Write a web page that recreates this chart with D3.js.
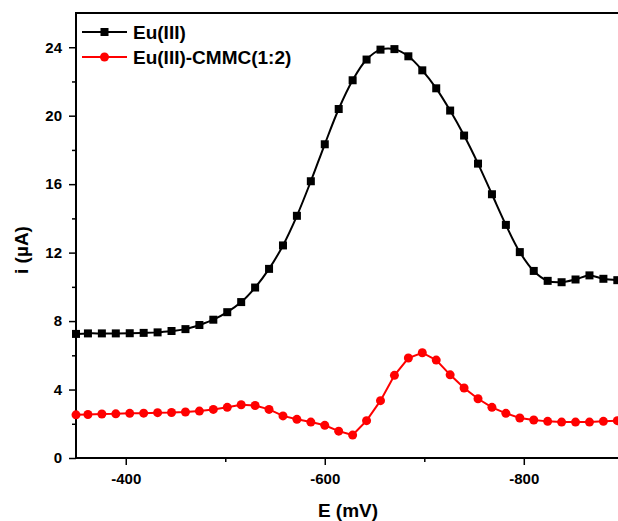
<!DOCTYPE html>
<html lang="en">
<head>
<meta charset="utf-8">
<title>Eu(III) voltammogram</title>
<script src="https://cdn.jsdelivr.net/npm/d3@7"></script>
<style>
  body { margin: 0; background: #fff; }
  svg text { font-family: "Liberation Sans", Arial, sans-serif; font-weight: bold; }
</style>
</head>
<body>
<script>
// potentials (mV)
var potentials = [-350, -362, -376, -390, -404, -418, -432, -446, -460, -474,
                  -488, -502, -516, -530, -544, -558, -572, -586, -600, -614,
                  -628, -642, -656, -670, -684, -698, -712, -726, -740, -754,
                  -768, -782, -796, -810, -824, -838, -852, -866, -880, -894];

// current (uA)
var euValues = [7.25, 7.28, 7.28, 7.28, 7.29, 7.31, 7.34, 7.42, 7.53, 7.77,
                8.08, 8.52, 9.11, 9.96, 11.05, 12.42, 14.15, 16.17, 18.33, 20.39,
                22.07, 23.28, 23.86, 23.89, 23.47, 22.65, 21.6, 20.3, 18.84, 17.2,
                15.41, 13.62, 12.03, 10.93, 10.35, 10.27, 10.43, 10.67, 10.47, 10.39];

var cmmcValues = [2.52, 2.54, 2.57, 2.58, 2.61, 2.62, 2.65, 2.66, 2.69, 2.74,
                  2.84, 2.96, 3.11, 3.07, 2.84, 2.46, 2.26, 2.10, 1.91, 1.57,
                  1.34, 2.18, 3.35, 4.83, 5.84, 6.15, 5.72, 4.86, 4.09, 3.46,
                  2.96, 2.61, 2.34, 2.22, 2.14, 2.10, 2.10, 2.10, 2.14, 2.18];

var xTicks = [-400, -600, -800];
var xMinor = [-500, -700];
var yTicks = [0, 4, 8, 12, 16, 20, 24];
var yMinor = [2, 6, 10, 14, 18, 22];

var w = 618, h = 521;
var mLeft = 76, mTop = 13, mBottom = 458;

var x = d3.scaleLinear().domain([-350, -900]).range([mLeft, 623.3]);
var y = d3.scaleLinear().domain([0, 26]).range([mBottom, mTop]);

var svg = d3.select("body").append("svg")
            .attr("width", w)
            .attr("height", h);

// axes
svg.append("g")
   .attr("transform", "translate(0," + mBottom + ")")
   .call(d3.axisBottom(x).tickValues(xTicks).tickSize(7).tickPadding(8)
           .tickFormat(function(d) { return String(d); }));
svg.append("g")
   .attr("transform", "translate(0," + mBottom + ")")
   .call(d3.axisBottom(x).tickValues(xMinor).tickSize(4).tickFormat(""));

svg.append("g")
   .attr("transform", "translate(" + mLeft + ",0)")
   .call(d3.axisLeft(y).tickValues(yTicks).tickSize(7).tickPadding(7));
svg.append("g")
   .attr("transform", "translate(" + mLeft + ",0)")
   .call(d3.axisLeft(y).tickValues(yMinor).tickSize(4).tickFormat(""));

svg.selectAll(".domain").remove();
svg.selectAll(".tick line").attr("stroke", "#000").attr("stroke-width", 1.5);
svg.selectAll(".tick text").attr("font-size", 15).attr("fill", "#000")
   .attr("font-family", "Liberation Sans, Arial, sans-serif").attr("font-weight", "bold");

// frame: left, bottom, top
svg.append("path")
   .attr("d", "M" + w + "," + mTop + "H" + mLeft + "V" + mBottom + "H" + w)
   .attr("fill", "none")
   .attr("stroke", "#000")
   .attr("stroke-width", 2);

// series
var euData = potentials.map(function(e, i) { return [e, euValues[i]]; });
var cmmcData = potentials.map(function(e, i) { return [e, cmmcValues[i]]; });

var line = d3.line()
             .x(function(d) { return x(d[0]); })
             .y(function(d) { return y(d[1]); });

svg.append("path")
   .attr("d", line.curve(d3.curveCatmullRom)(euData))
   .attr("fill", "none")
   .attr("stroke", "#000")
   .attr("stroke-width", 2);

svg.append("path")
   .attr("d", line.curve(d3.curveLinear)(cmmcData))
   .attr("fill", "none")
   .attr("stroke", "#ff0000")
   .attr("stroke-width", 2);

svg.selectAll("rect.eu")
   .data(euData)
   .enter()
   .append("rect")
   .attr("class", "eu")
   .attr("x", function(d) { return x(d[0]) - 4; })
   .attr("y", function(d) { return y(d[1]) - 4; })
   .attr("width", 8)
   .attr("height", 8)
   .attr("fill", "#000");

svg.selectAll("circle.cmmc")
   .data(cmmcData)
   .enter()
   .append("circle")
   .attr("class", "cmmc")
   .attr("cx", function(d) { return x(d[0]); })
   .attr("cy", function(d) { return y(d[1]); })
   .attr("r", 4.5)
   .attr("fill", "#ff0000");

// legend
var legend = [
  { name: "Eu(III)", color: "#000", shape: "square", y: 32 },
  { name: "Eu(III)-CMMC(1:2)", color: "#ff0000", shape: "circle", y: 57 }
];

legend.forEach(function(l) {
  svg.append("line")
     .attr("x1", 82).attr("x2", 127)
     .attr("y1", l.y).attr("y2", l.y)
     .attr("stroke", l.color)
     .attr("stroke-width", 2);
  if (l.shape == "square") {
    svg.append("rect")
       .attr("x", 104.5 - 4).attr("y", l.y - 4)
       .attr("width", 8).attr("height", 8)
       .attr("fill", l.color);
  } else {
    svg.append("circle")
       .attr("cx", 104.5).attr("cy", l.y)
       .attr("r", 4.5)
       .attr("fill", l.color);
  }
  svg.append("text")
     .attr("x", 133)
     .attr("y", l.y + 7)
     .attr("font-size", 19)
     .attr("fill", "#000")
     .text(l.name);
});

// axis titles
svg.append("text")
   .attr("x", 348)
   .attr("y", 517)
   .attr("text-anchor", "middle")
   .attr("font-size", 19)
   .text("E (mV)");

svg.append("text")
   .attr("transform", "translate(28,250) rotate(-90)")
   .attr("text-anchor", "middle")
   .attr("font-size", 19)
   .text("i (\u00b5A)");
</script>
</body>
</html>
